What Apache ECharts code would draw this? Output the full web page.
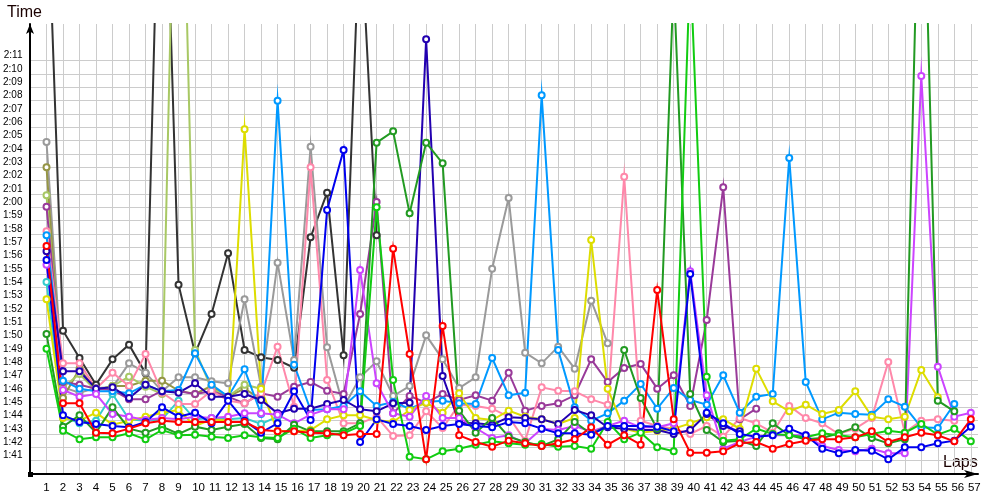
<!DOCTYPE html>
<html><head><meta charset="utf-8">
<script src="https://cdn.jsdelivr.net/npm/echarts@6/dist/echarts.min.js"></script>
<style>html,body{margin:0;padding:0;background:#fff}#c{width:1000px;height:500px}</style>
</head><body><div id="c"></div>
<script>
// Lap times in seconds, lap 1 first (null = not running)
const red = [117.1,105.3,105.3,103.1,103.05,103.4,103.8,104.0,103.9,103.9,103.9,103.9,103.9,103.3,103.2,103.2,103.1,103.05,102.9,103.0,103.0,116.9,109.0,101.1,111.1,102.9,102.4,102.05,102.5,102.3,102.1,102.3,102.6,103.5,102.2,102.9,102.2,113.8,104.1,101.6,101.6,101.7,102.3,102.4,101.9,102.25,102.5,102.6,102.6,102.75,103.2,102.4,102.75,103.1,102.9,102.45,104.1];
const blue = [116.05,104.4,103.9,103.75,103.6,103.5,103.9,105.0,104.3,104.6,103.8,105.5,104.0,103.1,103.8,106.2,104.05,119.8,124.3,102.4,104.1,103.75,103.6,103.3,103.6,103.75,103.6,103.5,103.9,103.8,103.4,103.05,103.05,102.95,103.6,103.6,103.6,103.55,103.2,115.0,104.6,103.8,103.0,102.8,102.9,103.4,102.9,101.9,101.55,101.8,101.75,101.1,102.0,102.0,102.3,102.5,103.55];
const indigo = [116.7,107.7,107.7,106.4,106.5,105.7,106.7,106.2,106.1,106.8,105.8,105.8,106.0,105.55,104.55,104.9,104.9,105.25,105.55,104.85,104.7,105.3,105.35,132.6,107.35,103.85,103.8,103.7,104.25,104.2,104.1,103.75,104.8,104.4,103.5,103.4,103.3,103.3,103.0,103.3,104.5,103.6,103.2];
const lightBlue = [117.9,107.0,106.4,106.2,106.2,106.05,106.7,106.2,106.3,109.05,106.7,105.8,107.85,104.5,128.0,108.2,104.8,104.85,105.1,106.2,105.1,105.4,104.9,105.4,105.5,105.3,105.25,108.7,105.9,106.1,128.4,109.3,105.0,104.0,104.55,105.5,106.75,104.9,106.45,105.55,105.2,107.4,104.6,105.8,106.0,123.7,106.9,104.1,104.6,104.5,104.45,105.6,105.05,103.5,103.45,105.25];
const forest = [110.5,103.55,104.4,103.1,105.0,103.4,103.1,103.55,103.0,103.55,103.3,103.55,103.75,102.7,102.6,103.7,103.2,103.2,103.2,103.8,124.85,125.7,119.55,124.85,123.3,104.75,103.1,104.2,102.8,102.4,102.1,102.6,103.9,103.0,103.6,109.3,105.7,103.4,137.0,106.0,103.3,102.4,102.5,102.1,103.8,102.9,102.6,102.7,103.05,103.5,102.7,102.3,102.6,152.6,105.5,104.7];
const lime = [109.4,103.25,102.6,102.75,102.75,103.05,102.6,103.3,102.9,102.95,102.8,102.7,102.9,102.75,102.7,103.4,102.7,102.9,103.05,103.6,120.0,107.05,101.3,101.1,101.7,101.9,102.2,102.45,102.3,102.2,102.25,102.05,102.1,101.9,103.9,102.6,103.1,102.0,101.7,138.3,107.3,102.5,102.6,103.4,103.0,102.9,102.75,103.05,102.9,102.75,103.0,103.25,103.1,103.75,102.95,103.4,102.45];
const pink = [118.2,108.3,108.3,106.4,107.6,106.6,109.0,106.1,105.25,105.25,106.25,105.5,105.3,106.05,109.55,105.05,123.0,107.05,103.8,103.8,104.3,102.85,102.9,104.7,103.45,105.2,105.1,104.9,104.3,102.5,106.5,106.25,106.2,105.6,105.2,122.3,104.0,103.6,103.4,103.0,103.6,102.8,104.2,103.8,103.1,105.1,104.2,103.8,103.0,103.4,104.2,108.4,103.1,104.0,104.1,104.0];
const violet = [115.7,106.3,105.8,106.0,104.5,104.3,104.05,104.2,104.1,104.3,104.2,104.3,104.55,104.55,104.45,103.8,104.45,104.85,104.85,115.3,106.8,104.55,104.3,105.85,104.2,104.2,103.45,102.7,102.9,102.3,103.4,103.3,103.6,103.2,103.6,104.0,103.5,103.5,103.8,115.2,105.9,101.9,102.4,102.8,102.9,102.9,102.9,102.1,101.8,101.7,101.9,101.55,101.55,129.85,108.05,104.3,104.6];
const purple = [120.05,106.9,106.7,106.4,106.3,105.6,105.6,106.25,106.2,106.0,106.2,105.8,105.3,106.05,105.8,106.55,106.9,106.25,106.0,112.0,120.4,104.55,105.85,105.35,106.0,105.55,105.9,105.5,107.6,104.75,105.1,105.3,105.9,108.6,106.9,107.95,108.25,106.4,107.4,105.1,111.55,121.5,104.1,104.9];
const gray = [124.9,106.5,106.1,106.45,106.5,108.3,107.6,106.2,107.25,107.25,106.95,106.8,113.1,106.55,115.85,108.55,124.55,109.5,105.0,107.25,108.45,105.85,106.6,110.4,108.6,106.45,107.25,115.4,120.7,109.1,108.3,109.55,107.9,113.0,109.8];
const black = [145.8,110.75,108.7,106.7,108.6,109.7,107.55,155.0,114.2,109.05,112.0,116.55,109.3,108.75,108.55,107.97,117.75,121.1,108.9,142.0,117.9];
const yellow = [113.1,104.2,104.0,104.6,103.7,104.0,104.3,104.6,104.8,103.6,104.1,104.0,125.85,106.4,103.2,103.2,103.3,104.1,104.4,104.4,104.05,103.9,104.8,105.35,104.6,106.05,104.2,104.05,104.75,104.3,104.1,103.75,104.2,117.55,106.4,103.4,103.1,103.25,103.4,103.8,104.25,104.1,103.4,107.9,105.45,104.7,105.2,104.5,104.8,106.2,104.3,104.1,104.3,107.8,105.75];
const olive = [123.0,105.7,107.9,106.3,106.6,106.6,107.0,107.0,106.25,106.0,106.6,105.8,106.4,105.6];
const yellowGreen = [120.9,106.5,107.5,106.25,106.6,107.3,106.55,106.0,160.0,109.3,106.4,105.8,106.7,106.4];
const cyan = [114.4,104.3,103.8,104.0,106.0,104.1,104.0,104.1,105.5,104.1,104.2,104.1,104.2,103.75,104.3];

const seriesDefs = [
  ['black', black, '#333333'],
  ['gray', gray, '#9a9a9a'],
  ['olive', olive, '#959545'],
  ['yellowGreen', yellowGreen, '#a8c864'],
  ['cyan', cyan, '#33cccc'],
  ['purple', purple, '#993a99'],
  ['pink', pink, '#ff88aa'],
  ['lightBlue', lightBlue, '#0099ff'],
  ['yellow', yellow, '#dddd00'],
  ['indigo', indigo, '#2200b0'],
  ['violet', violet, '#cc44ff'],
  ['forest', forest, '#229a22'],
  ['lime', lime, '#11cc11'],
  ['blue', blue, '#0000ee'],
  ['red', red, '#ff0000']
];

const FONT = "'Liberation Sans', Arial, sans-serif";
function fmtTime(v){ if (v < 101 || v > 131) return ''; const m = Math.floor(v/60); const s = Math.round(v - m*60); return m + ':' + String(s).padStart(2,'0'); }

const chart = echarts.init(document.getElementById('c'), null, {renderer:'canvas'});
const option = {
  animation: false,
  backgroundColor: '#ffffff',
  grid: [
    {left: 30, right: 29.2, top: 24, bottom: 26, containLabel: false},
    {left: 30, right: 22, top: 60.67, bottom: 26, containLabel: false}
  ],
  xAxis: [
    {type: 'value', gridIndex: 0, min: 0, max: 57, interval: 1,
     axisLine: {show: false}, axisTick: {show: false},
     splitLine: {show: true, lineStyle: {color: '#cccccc', width: 1}},
     axisLabel: {margin: 8, color: '#000', fontFamily: FONT, fontSize: 11.5,
       formatter: v => (v < 1 || v !== Math.round(v)) ? '' : (v >= 10 ? '{b|' + v + '}' : '{a|' + v + '}'),
       rich: {a: {fontFamily: FONT, fontSize: 11.5, color: '#000'},
              b: {fontFamily: FONT, fontSize: 11.5, color: '#000', padding: [0,0,0,7]}}}},
    {type: 'value', gridIndex: 1, min: 0, max: 1,
     axisLine: {show: true, lineStyle: {color: '#000', width: 2}, symbol: ['none','arrow'], symbolSize: [6, 14]},
     axisTick: {show: false}, axisLabel: {show: false}, splitLine: {show: false}}
  ],
  yAxis: [
    {type: 'value', gridIndex: 0, min: 100, max: 133.75,
     axisLine: {show: true, lineStyle: {color: '#000', width: 2}, symbol: ['none','arrow'], symbolSize: [6, 10]},
     axisTick: {show: false}, axisLabel: {show: false}, splitLine: {show: false}},
    {type: 'value', gridIndex: 1, min: 100, max: 131, interval: 1,
     axisLine: {show: false}, axisTick: {show: false},
     splitLine: {show: true, lineStyle: {color: '#cccccc', width: 1}},
     axisLabel: {margin: 8, color: '#000', fontFamily: FONT, fontSize: 10, verticalAlign: 'bottom', formatter: fmtTime}}
  ],
  series: seriesDefs.map(([name, arr, color]) => ({
    name: name, type: 'line', xAxisIndex: 0, yAxisIndex: 0,
    data: arr.map((v, i) => [i + 1, v]),
    symbol: 'emptyCircle', symbolSize: 6, showAllSymbol: true,
    itemStyle: {color: color, borderWidth: 1.5},
    lineStyle: {color: color, width: 2, join: 'miter', miterLimit: 20},
    emphasis: {disabled: true}, silent: true, clip: true
  })),
  graphic: [
    {type: 'text', left: 7, top: 5, style: {text: 'Time', fontFamily: FONT, fontSize: 16, fill: '#1a0000'}},
    {type: 'text', left: 943, top: 455, style: {text: 'Laps', fontFamily: FONT, fontSize: 16, fill: '#1a0000'}},
    {type: 'rect', left: 28, top: 472, shape: {width: 5, height: 5}, style: {fill: '#000'}}
  ]
};
chart.setOption(option);
</script>
</body></html>
